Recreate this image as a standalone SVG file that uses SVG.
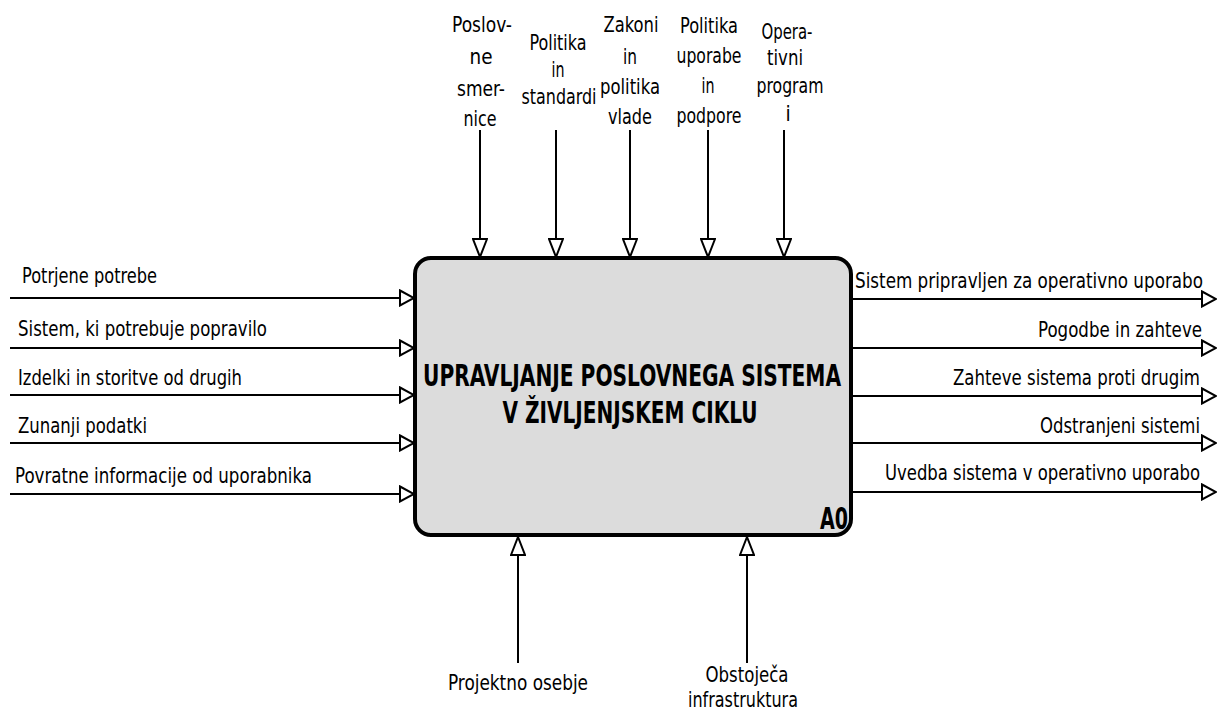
<svg xmlns="http://www.w3.org/2000/svg" width="1217" height="711" viewBox="0 0 1217 711">
<style>
text{font-family:"DejaVu Sans Condensed","DejaVu Sans",sans-serif;font-stretch:condensed;fill:#000}
.lbl{font-size:21px}
.ttl{font-size:30px;font-weight:bold}
.tc{text-anchor:middle}
.cn{stroke:#000;stroke-width:2;fill:none}
.h{marker-end:url(#ah)}
.v{marker-end:url(#av)}
</style>
<defs>
<marker id="ah" markerUnits="userSpaceOnUse" markerWidth="16" markerHeight="18" viewBox="0 0 16 18" refX="15" refY="9" orient="auto">
<path d="M1,1.5 L15,9 L1,16.5 Z" fill="#fff" stroke="#000" stroke-width="2"/>
</marker>
<marker id="av" markerUnits="userSpaceOnUse" markerWidth="20" markerHeight="16" viewBox="0 0 20 16" refX="19" refY="8" orient="auto">
<path d="M1,1 L19,8 L1,15 Z" fill="#fff" stroke="#000" stroke-width="2"/>
</marker>
</defs>
<rect width="1217" height="711" fill="#fff"/>

<g id="connectors">
<path class="cn v" d="M480,130 V257"/>
<path class="cn v" d="M556,130 V257"/>
<path class="cn v" d="M630,130 V257"/>
<path class="cn v" d="M708,130 V257"/>
<path class="cn v" d="M784,130 V257"/>
<path class="cn h" d="M10,298 H414"/>
<path class="cn h" d="M10,348 H414"/>
<path class="cn h" d="M10,395 H414"/>
<path class="cn h" d="M10,443 H414"/>
<path class="cn h" d="M10,494 H414"/>
<path class="cn h" d="M851,299 H1216"/>
<path class="cn h" d="M851,348 H1216"/>
<path class="cn h" d="M851,396 H1216"/>
<path class="cn h" d="M851,443 H1216"/>
<path class="cn h" d="M851,492 H1216"/>
<path class="cn v" d="M518,663 V537"/>
<path class="cn v" d="M747,663 V537"/>
</g>

<g id="node-A0">
<rect x="415" y="258" width="436" height="277" rx="16" ry="16" fill="#dcdcdc" stroke="#000" stroke-width="4"/>
<text class="ttl tc" x="632" y="386" textLength="418" lengthAdjust="spacingAndGlyphs">UPRAVLJANJE POSLOVNEGA SISTEMA</text>
<text class="ttl tc" x="630" y="423" textLength="255" lengthAdjust="spacingAndGlyphs">V ŽIVLJENJSKEM CIKLU</text>
<text class="ttl" x="820" y="529" font-size="28" textLength="28" lengthAdjust="spacingAndGlyphs">A0</text>
</g>

<g id="ctrl-poslovne-smernice">
<text class="lbl tc" x="482" y="32" textLength="60" lengthAdjust="spacingAndGlyphs">Poslov-</text>
<text class="lbl tc" x="481" y="64" textLength="23" lengthAdjust="spacingAndGlyphs">ne</text>
<text class="lbl tc" x="481" y="96" textLength="48" lengthAdjust="spacingAndGlyphs">smer-</text>
<text class="lbl tc" x="480" y="126" textLength="33" lengthAdjust="spacingAndGlyphs">nice</text>
</g>
<g id="ctrl-politika-standardi">
<text class="lbl tc" x="558" y="50" textLength="57" lengthAdjust="spacingAndGlyphs">Politika</text>
<text class="lbl tc" x="558" y="77" textLength="13" lengthAdjust="spacingAndGlyphs">in</text>
<text class="lbl tc" x="559" y="104" textLength="75" lengthAdjust="spacingAndGlyphs">standardi</text>
</g>
<g id="ctrl-zakoni">
<text class="lbl tc" x="631" y="32" textLength="55" lengthAdjust="spacingAndGlyphs">Zakoni</text>
<text class="lbl tc" x="630" y="64" textLength="14" lengthAdjust="spacingAndGlyphs">in</text>
<text class="lbl tc" x="630" y="94" textLength="60" lengthAdjust="spacingAndGlyphs">politika</text>
<text class="lbl tc" x="630" y="124" textLength="44" lengthAdjust="spacingAndGlyphs">vlade</text>
</g>
<g id="ctrl-politika-uporabe">
<text class="lbl tc" x="709" y="33" textLength="58" lengthAdjust="spacingAndGlyphs">Politika</text>
<text class="lbl tc" x="709" y="63" textLength="65" lengthAdjust="spacingAndGlyphs">uporabe</text>
<text class="lbl tc" x="708" y="93" textLength="13" lengthAdjust="spacingAndGlyphs">in</text>
<text class="lbl tc" x="709" y="123" textLength="65" lengthAdjust="spacingAndGlyphs">podpore</text>
</g>
<g id="ctrl-operativni-programi">
<text class="lbl tc" x="787" y="39" textLength="51" lengthAdjust="spacingAndGlyphs">Opera-</text>
<text class="lbl tc" x="785" y="65" textLength="36" lengthAdjust="spacingAndGlyphs">tivni</text>
<text class="lbl tc" x="790" y="93" textLength="67" lengthAdjust="spacingAndGlyphs">program</text>
<text class="lbl tc" x="788" y="121">i</text>
</g>

<g id="in-potrjene-potrebe"><text class="lbl" x="22" y="283" textLength="135" lengthAdjust="spacingAndGlyphs">Potrjene potrebe</text></g>
<g id="in-sistem-popravilo"><text class="lbl" x="18" y="336" textLength="249" lengthAdjust="spacingAndGlyphs">Sistem, ki potrebuje popravilo</text></g>
<g id="in-izdelki"><text class="lbl" x="18" y="385" textLength="224" lengthAdjust="spacingAndGlyphs">Izdelki in storitve od drugih</text></g>
<g id="in-zunanji"><text class="lbl" x="18" y="433" textLength="129" lengthAdjust="spacingAndGlyphs">Zunanji podatki</text></g>
<g id="in-povratne"><text class="lbl" x="15" y="483" textLength="297" lengthAdjust="spacingAndGlyphs">Povratne informacije od uporabnika</text></g>

<g id="out-sistem-pripravljen"><text class="lbl" x="855" y="288" textLength="348" lengthAdjust="spacingAndGlyphs">Sistem pripravljen za operativno uporabo</text></g>
<g id="out-pogodbe"><text class="lbl" x="1038" y="337" textLength="164" lengthAdjust="spacingAndGlyphs">Pogodbe in zahteve</text></g>
<g id="out-zahteve"><text class="lbl" x="953" y="385" textLength="247" lengthAdjust="spacingAndGlyphs">Zahteve sistema proti drugim</text></g>
<g id="out-odstranjeni"><text class="lbl" x="1040" y="433" textLength="160" lengthAdjust="spacingAndGlyphs">Odstranjeni sistemi</text></g>
<g id="out-uvedba"><text class="lbl" x="885" y="480" textLength="315" lengthAdjust="spacingAndGlyphs">Uvedba sistema v operativno uporabo</text></g>

<g id="mech-projektno-osebje"><text class="lbl tc" x="518" y="690" textLength="140" lengthAdjust="spacingAndGlyphs">Projektno osebje</text></g>
<g id="mech-obstojeca-infrastruktura">
<text class="lbl tc" x="747" y="682" textLength="83" lengthAdjust="spacingAndGlyphs">Obstoječa</text>
<text class="lbl tc" x="743" y="707" textLength="110" lengthAdjust="spacingAndGlyphs">infrastruktura</text>
</g>
</svg>
